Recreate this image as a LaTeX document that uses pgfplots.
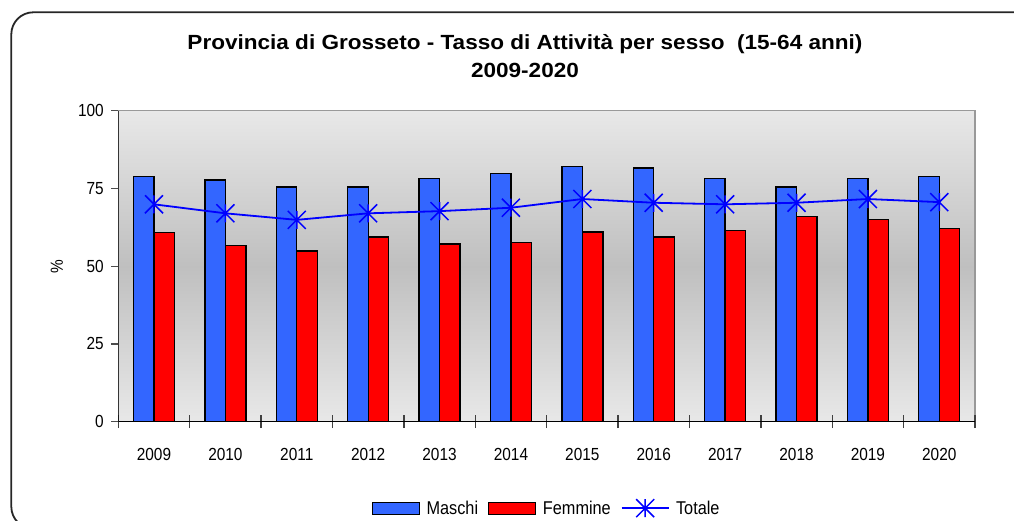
\documentclass[border=0pt]{standalone}
\usepackage{fontspec}
\setmainfont{Liberation Sans}
\newfontfamily\titlefont[FakeStretch=1.1]{Liberation Sans}
\newfontfamily\narrowfont[FakeStretch=0.88]{Liberation Sans}
\usepackage{pgfplots}
\pgfplotsset{compat=1.18}

\definecolor{mblue}{HTML}{3366FF}
\definecolor{fred}{HTML}{FF0000}
\definecolor{tblue}{HTML}{0000FF}
\definecolor{axgray}{HTML}{999999}

\pgfdeclareplotmark{xstar}{%
  \pgfpathmoveto{\pgfqpoint{-\pgfplotmarksize}{-\pgfplotmarksize}}%
  \pgfpathlineto{\pgfqpoint{\pgfplotmarksize}{\pgfplotmarksize}}%
  \pgfpathmoveto{\pgfqpoint{-\pgfplotmarksize}{\pgfplotmarksize}}%
  \pgfpathlineto{\pgfqpoint{\pgfplotmarksize}{-\pgfplotmarksize}}%
  \pgfpathmoveto{\pgfqpoint{0pt}{-\pgfplotmarksize}}%
  \pgfpathlineto{\pgfqpoint{0pt}{\pgfplotmarksize}}%
  \pgfusepathqstroke}

\pgfplotstableread{
x  M     F     T
0  78.8  60.9  69.9
1  77.7  56.6  67.0
2  75.5  54.9  64.9
3  75.5  59.4  67.0
4  78.1  57.1  67.7
5  79.9  57.7  68.8
6  82.1  61.0  71.6
7  81.6  59.4  70.4
8  78.3  61.5  69.9
9  75.5  65.9  70.4
10 78.3  65.0  71.6
11 78.8  62.2  70.6
}\data

\begin{document}
\begin{tikzpicture}
\begin{axis}[
  scale only axis, width=856.7pt, height=311pt,
  xmin=-0.5, xmax=11.5, ymin=0, ymax=100,
  enlargelimits=false,
  axis background/.style={top color=black!9, bottom color=black!9, middle color=black!25},
  axis line style={axgray, line width=1.5pt},
  tick align=outside,
  xtick pos=bottom, ytick pos=left,
  major tick length=7pt,
  xtick={0,1,2,3,4,5,6,7,8,9,10,11},
  xticklabels={2009,2010,2011,2012,2013,2014,2015,2016,2017,2018,2019,2020},
  major x tick style={draw=none},
  extra x ticks={-0.5,0.5,1.5,2.5,3.5,4.5,5.5,6.5,7.5,8.5,9.5,10.5,11.5},
  extra x tick labels={},
  extra x tick style={major tick length=13pt,
    major x tick style={draw=black!75, line width=1.4pt, yshift=6.5pt}},
  ytick={0,25,50,75,100},
  yticklabels={0,25,50,75,100},
  major y tick style={black!70, line width=1.3pt},
  tick label style={font=\narrowfont\fontsize{17.5}{20}\selectfont, black},
  xticklabel style={yshift=-16pt},
  yticklabel style={xshift=-4pt},
  ylabel={\%},
  ylabel style={at={(axis description cs:-0.0716,0.5)}, anchor=center, font=\narrowfont\fontsize{17.5}{20}\selectfont},
  title={Provincia di Grosseto - Tasso di Attività per sesso\ \ (15-64 anni)\\2009-2020},
  title style={at={(axis description cs:0.4747,1.155)}, anchor=center, align=center,
    font=\titlefont\bfseries\fontsize{20.5}{28}\selectfont},
  legend style={at={(axis description cs:0.5,-0.278)}, anchor=center, draw=none, fill=none,
    font=\narrowfont\fontsize{18.5}{20}\selectfont,
    /tikz/every even column/.append style={column sep=8pt},
    /tikz/every odd column/.append style={column sep=4.5pt}},
  legend columns=3,
  legend cell align=left,
]
\addplot[ybar, bar width=20.5pt, bar shift=-10.25pt, fill=mblue, draw=black, line width=1.3pt,
  legend image code/.code={\draw[fill=mblue, draw=black, line width=1.3pt] (0pt,-6pt) rectangle (47pt,6pt);}]
  table[x=x, y=M] {\data};
\addlegendentry{Maschi}
\addplot[ybar, bar width=20.5pt, bar shift=10.25pt, fill=fred, draw=black, line width=1.3pt,
  legend image code/.code={\draw[fill=fred, draw=black, line width=1.3pt] (0pt,-6pt) rectangle (47pt,6pt);}]
  table[x=x, y=F] {\data};
\addlegendentry{Femmine}
\addplot[sharp plot, tblue, line width=1.8pt, mark=xstar, mark size=9pt,
  mark options={line width=1.5pt},
  legend image code/.code={\draw[tblue, line width=1.8pt, mark=xstar, mark size=9pt, mark options={line width=1.5pt}, mark repeat=2, mark phase=2] plot coordinates {(0pt,0pt) (23.5pt,0pt) (47pt,0pt)};}]
  table[x=x, y=T] {\data};
\addlegendentry{Totale}
\draw[black, line width=1.5pt] (rel axis cs:0,1) -- (rel axis cs:0,0) -- (rel axis cs:1,0);
\end{axis}
\draw[black!85, line width=1.8pt, rounded corners=22pt] (-107pt,409.4pt) rectangle (960pt,-107pt);
\pgfresetboundingbox
\useasboundingbox (-118.3pt,-99.3pt) rectangle (895.7pt,421.7pt);
\end{tikzpicture}
\end{document}
